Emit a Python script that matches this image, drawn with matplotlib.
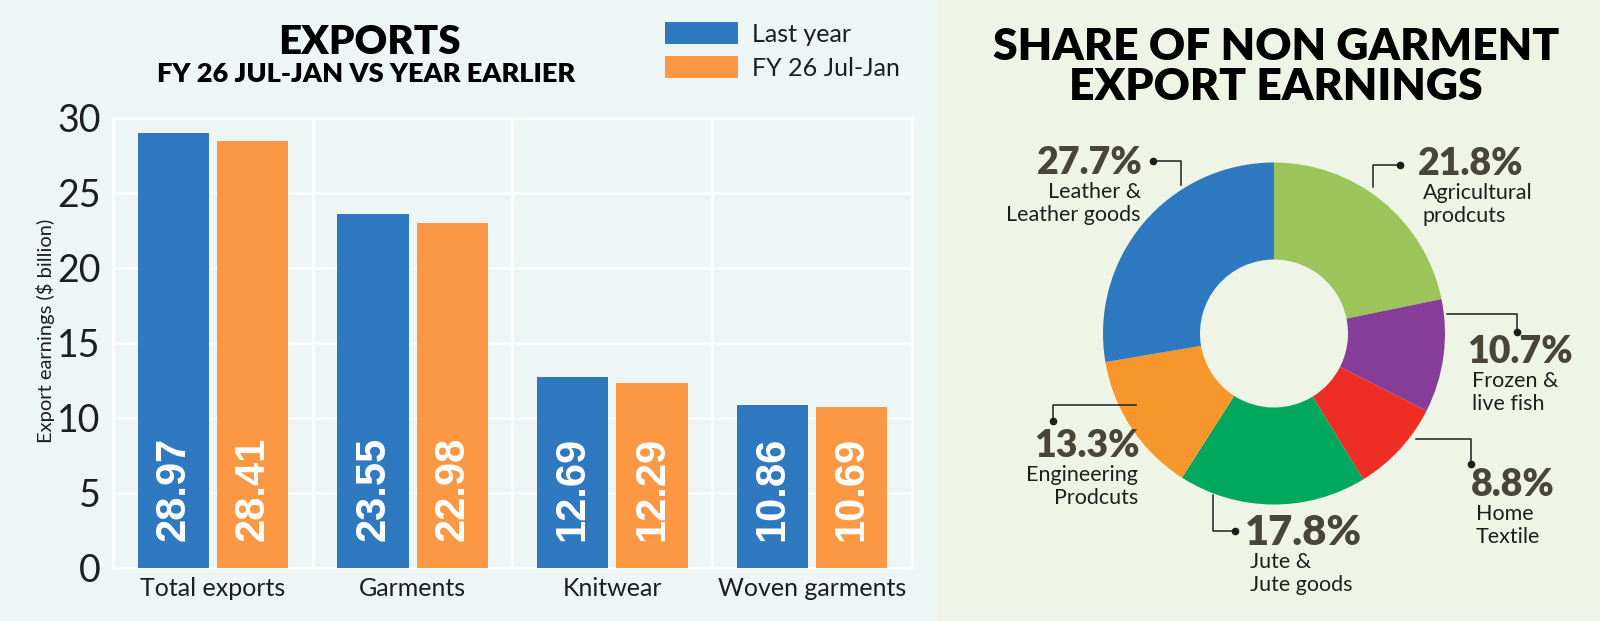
import matplotlib
matplotlib.use("Agg")
from matplotlib import pyplot as plt
from matplotlib.patches import Rectangle
from matplotlib.lines import Line2D

W, H = 1600, 621

# bar chart data
categories = ["Total exports", "Garments", "Knitwear", "Woven garments"]
last_year = [28.97, 23.55, 12.69, 10.86]
this_year = [28.41, 22.98, 12.29, 10.69]
series_names = ["Last year", "FY 26 Jul-Jan"]

# donut data (clockwise from the top)
shares = [21.8, 10.7, 8.8, 17.8, 13.3, 27.7]
share_labels = ["Agricultural\nprodcuts", "Frozen &\nlive fish", "Home\nTextile",
                "Jute &\nJute goods", "Engineering\nProdcuts", "Leather &\nLeather goods"]
share_colors = ["#9bc55b", "#863e98", "#ee2e24", "#00a85d", "#f7962a", "#2e79c0"]

BLUE = "#2e79c0"
ORANGE = "#fc9744"
BG_LEFT = "#edf5f5"
BG_RIGHT = "#eef5e6"
DARK = "#1e1e1e"
PCT = "#4a4637"

plt.rcParams["font.family"] = ["Lato", "DejaVu Sans"]


def fx(x):
    return x / W


def fy(y):
    return 1 - y / H


fig = plt.figure(figsize=(16, 6.21), dpi=100, facecolor=BG_LEFT)
fig.add_artist(Rectangle((fx(938), 0), 1 - fx(938), 1, transform=fig.transFigure,
                         facecolor=BG_RIGHT, edgecolor="none", zorder=0))

# ---------------- bar chart ----------------
ax = fig.add_axes([fx(113), fy(567.6), fx(912) - fx(113), fy(117.6) - fy(567.6)])
ax.set_facecolor(BG_LEFT)
x = list(range(len(categories)))
bw = 0.357
off = 0.198
b1 = ax.bar([i - off for i in x], last_year, bw, color=BLUE, label=series_names[0], zorder=3)
b2 = ax.bar([i + off for i in x], this_year, bw, color=ORANGE, label=series_names[1], zorder=3)
for bars, vals in ((b1, last_year), (b2, this_year)):
    for r, v in zip(bars, vals):
        ax.text(r.get_x() + r.get_width() / 2, 1.8, "%.2f" % v, rotation=90,
                ha="center", va="bottom", color="white", fontsize=30,
                fontweight="bold", family="Liberation Sans", zorder=4)

ax.set_xlim(-0.5, 3.5)
ax.set_ylim(0, 30)
ax.set_yticks(range(0, 31, 5))
ax.set_xticks(x)
ax.set_xticklabels(categories, fontsize=18, color=DARK)
ax.set_xticks([0.5, 1.5, 2.5], minor=True)
ax.tick_params(axis="y", length=0, pad=9, labelsize=27, labelcolor=DARK)
ax.tick_params(axis="x", which="both", length=0, pad=7)
ax.grid(axis="y", color="white", lw=1.8, zorder=1)
ax.grid(axis="x", which="minor", color="white", lw=1.8, zorder=1)
for s in ax.spines.values():
    s.set_color("white")
    s.set_linewidth(1.8)
    s.set_zorder(1)

fig.text(fx(46), fy(331), "Export earnings ($ billion)", rotation=90, ha="center",
         va="center", fontsize=14.5, color=DARK)

fig.text(fx(369), fy(43), "EXPORTS", ha="center", va="center", fontsize=29,
         fontweight="heavy", color="black")
fig.text(fx(366), fy(74), "FY 26 JUL-JAN VS YEAR EARLIER", ha="center", va="center",
         fontsize=19.5, fontweight="heavy", color="black")

leg = fig.legend(handles=[b1, b2], loc="upper left", bbox_to_anchor=(fx(665), fy(22)),
                 frameon=False, fontsize=18, handlelength=2.9, handleheight=1.0,
                 handletextpad=0.6, labelspacing=0.4, borderpad=0, borderaxespad=0)
for t in leg.get_texts():
    t.set_color(DARK)

# ---------------- donut ----------------
cx, cy = 1274, 333.5
pax = fig.add_axes([fx(cx - 200), fy(cy + 200), 400 / W, 400 / H])
pax.pie(shares, colors=share_colors, startangle=90, counterclock=False,
        radius=171, wedgeprops=dict(width=171 - 74, linewidth=0))
pax.set_xlim(-200, 200)
pax.set_ylim(-200, 200)
pax.set_aspect("equal")
pax.axis("off")

fig.text(fx(1276), fy(67), "SHARE OF NON GARMENT\nEXPORT EARNINGS", ha="center",
         va="center", fontsize=32, fontweight="heavy", color="black", linespacing=1.0)

# connector lines, label anchors and alignment for each slice
callouts = [
    ([(1373, 187), (1373, 165), (1400, 165)], (1418, 164), "left", 27),
    ([(1447, 314), (1517, 314), (1517, 332)], (1467, 352), "left", 27),
    ([(1416, 439), (1471, 439), (1471, 464)], (1471, 485), "left", 27),
    ([(1213, 495), (1213, 531), (1235, 531)], (1245, 533), "left", 30),
    ([(1136, 405), (1053, 405), (1053, 421)], (1140, 446), "right", 27),
    ([(1181, 185), (1181, 161), (1153, 161)], (1143, 163), "right", 27),
]
for share, label, (pts, (tx, ty), align, fs) in zip(shares, share_labels, callouts):
    xs = [fx(p[0]) for p in pts]
    ys = [fy(p[1]) for p in pts]
    fig.add_artist(Line2D(xs, ys, transform=fig.transFigure, color=DARK, lw=1.1))
    fig.add_artist(Line2D([xs[-1]], [ys[-1]], transform=fig.transFigure, color=DARK,
                          marker="o", markersize=4.5, lw=0))
    fig.text(fx(tx), fy(ty), "%.1f%%" % share, ha=align, va="center", fontsize=fs,
             fontweight="heavy", color=PCT)
    sx = tx + (5 if align == "left" else -2)
    fig.text(fx(sx), fy(ty + 19), label, ha=align, va="top", fontsize=15.5,
             color=DARK, linespacing=1.2)

fig.savefig("out.png", dpi=100, facecolor=fig.get_facecolor())
